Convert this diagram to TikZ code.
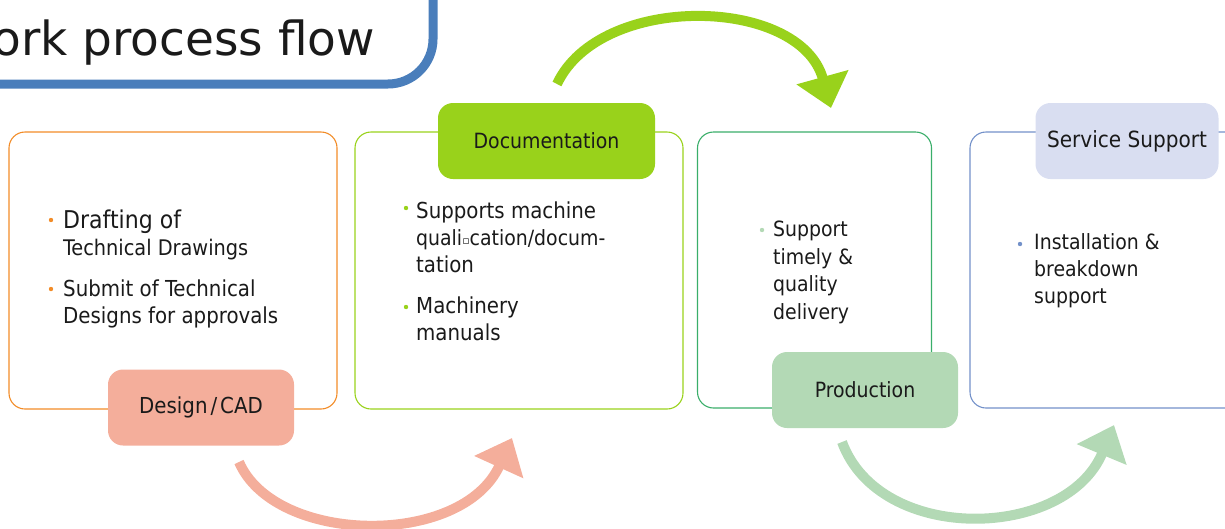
\documentclass[tikz,border=0pt]{standalone}
\usepackage{fontspec}
\setmainfont{DejaVu Sans Condensed}
\newfontfamily\titlefont{DejaVu Sans}
\newfontfamily\symfont{DejaVu Sans}
\usetikzlibrary{arrows.meta}

\definecolor{titleblue}{HTML}{4A7EBB}
\definecolor{cadline}{HTML}{F28C28}
\definecolor{cadfill}{HTML}{F4AE9B}
\definecolor{docline}{HTML}{99D21B}
\definecolor{docfill}{HTML}{99D21B}
\definecolor{prodline}{HTML}{3AAE6A}
\definecolor{prodfill}{HTML}{B3D9B5}
\definecolor{servline}{HTML}{7391C9}
\definecolor{servfill}{HTML}{D9DEF1}
\definecolor{ink}{HTML}{1A1A1A}

\begin{document}
\begin{tikzpicture}[x=1pt,y=-1pt,
    frame/.style={draw,line width=1.1pt,rounded corners=16pt,inner sep=0pt},
    tag/.style={rounded corners=15pt,inner sep=0pt,minimum height=76pt,text=ink,
        font=\fontsize{21}{26}\selectfont},
    item/.style={anchor=base west,align=left,inner sep=0pt,text=ink,
        font=\fontsize{21.5}{27}\selectfont},
    swoop/.style={line width=10pt,-{Triangle[length=32pt,width=52pt]}}]
    \useasboundingbox (0,0) rectangle (1225,528);
    \clip (0,0) rectangle (1225,528);
    % title
    \draw[titleblue,line width=9pt,rounded corners=45pt] (-60,-60) rectangle (433,84);
    \node[anchor=base east,inner sep=0pt,text=ink,font=\titlefont\fontsize{47}{56}\selectfont]
        (title) at (375,55) {Work process flow};
    % frames
    \node[frame,draw=cadline,minimum width=328pt,minimum height=277pt] (cadbox) at (173,270.5) {};
    \node[frame,draw=docline,minimum width=328pt,minimum height=277pt] (docbox) at (519,270.5) {};
    \node[frame,draw=prodline,minimum width=234pt,minimum height=276pt] (prodbox) at (814.5,270) {};
    \node[frame,draw=servline,minimum width=280pt,minimum height=276pt] (servbox) at (1110,270) {};
    % tags
    \node[tag,fill=cadfill,minimum width=186pt,font=\fontsize{22}{26}\selectfont] (cad) at (201,407.5)
        {Design\kern3pt/\kern3pt CAD};
    \node[tag,fill=docfill,minimum width=217pt] (doc) at (546.5,141) {Documentation};
    \node[tag,fill=prodfill,minimum width=186pt] (prod) at (865,390) {Production};
    \node[tag,fill=servfill,minimum width=183pt,font=\fontsize{22.3}{26}\selectfont] (serv) at (1127,141)
        {Service Support};
    % bullets
    \fill[cadline] (51,220) circle (2.2pt) (51,289) circle (2.2pt);
    \fill[docline] (406,208) circle (2.2pt) (406,307) circle (2.2pt);
    \fill[prodfill] (762,230) circle (2.2pt);
    \fill[servline] (1020,244) circle (2.2pt);
    % texts (anchor is on the last line)
    \node[item] (cad1) at (63,255) {{\fontsize{24.5}{27}\selectfont Drafting of}\\Technical Drawings};
    \node[item,font=\fontsize{22}{27}\selectfont] (cad2) at (63,323) {Submit of Technical\\Designs for approvals};
    \node[item] (doc1) at (416,272) {{\fontsize{22}{27}\selectfont Supports machine}\\
        {\fontsize{21}{27}\selectfont quali{\symfont\fontsize{11}{27}\selectfont\raisebox{1pt}{▫}}cation/docum-}\\
        {\fontsize{22}{27}\selectfont tation}};
    \node[item,font=\fontsize{22}{27}\selectfont] (doc2) at (416,340) {Machinery\\manuals};
    \node[item,font=\fontsize{21}{27.5}\selectfont] (prod1) at (773,319) {Support\\timely \&\\quality\\delivery};
    \node[item,font=\fontsize{21}{27}\selectfont] (serv1) at (1034,303) {Installation \&\\breakdown\\support};
    % arrows
    \coordinate (cadout) at (239,462);
    \coordinate (docin) at (512,438);
    \coordinate (docout) at (557,84);
    \coordinate (prodin) at (831,108);
    \coordinate (prodout) at (842,442);
    \coordinate (servin) at (1114,425);
    \draw[swoop,cadfill] (cadout) .. controls (275,545) and (462,548) .. (docin);
    \draw[swoop,docline] (docout) .. controls (600,-8) and (800,-4) .. (prodin);
    \draw[swoop,prodfill] (prodout) .. controls (880,545) and (1066,540) .. (servin);
\end{tikzpicture}
\end{document}
